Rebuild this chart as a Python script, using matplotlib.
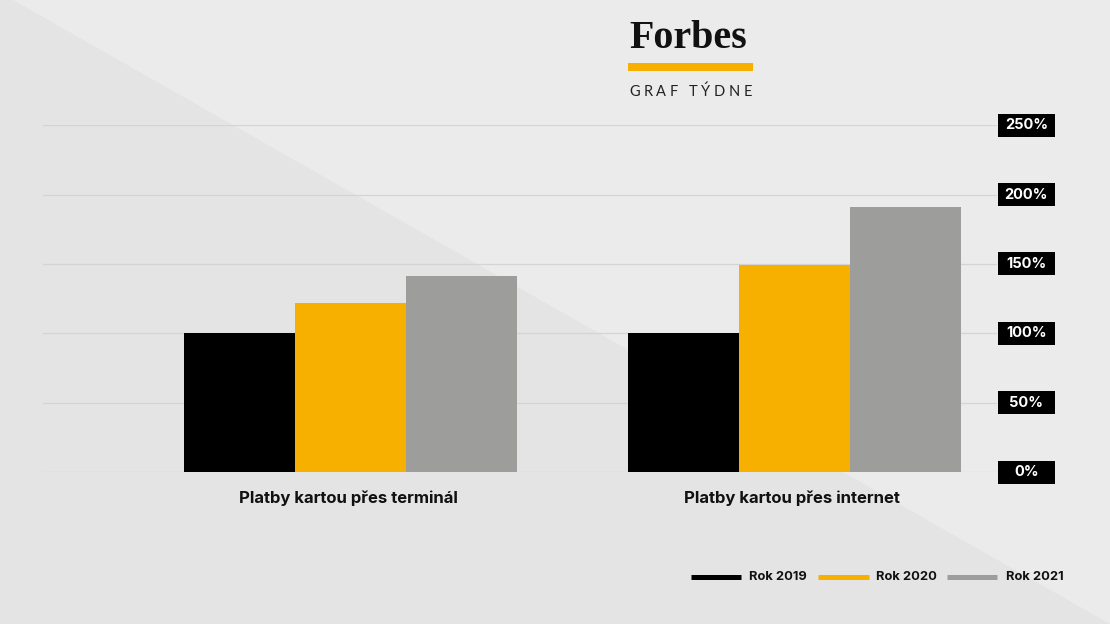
import matplotlib
matplotlib.use("Agg")
import matplotlib.pyplot as plt
from matplotlib.patches import Rectangle, Polygon
from matplotlib.lines import Line2D
from matplotlib.transforms import blended_transform_factory
import numpy as np

# ---- data ----
categories = ["Platby kartou přes terminál", "Platby kartou přes internet"]
series_names = ["Rok 2019", "Rok 2020", "Rok 2021"]
rok_2019 = [100, 100]
rok_2020 = [122, 149]
rok_2021 = [141, 191]
tick_values = [0, 50, 100, 150, 200, 250]
tick_labels = ["0%", "50%", "100%", "150%", "200%", "250%"]
colors = ["#000000", "#f8b000", "#9d9d9c"]

W, H = 1110, 624
fig = plt.figure(figsize=(W / 100, H / 100), dpi=100)
fig.patch.set_facecolor("#ebebeb")


def fx(px):
    return px / W


def fy(py):
    return (H - py) / H


# diagonal background shading
tri = Polygon([(13 / W, 1), (1, 0), (0, 0), (0, 1)], closed=True,
              transform=fig.transFigure, facecolor="#e4e4e4", edgecolor="none", zorder=-5)
fig.patches.append(tri)

# axes: x 43..997 px, y 0 at 472 px, 250 at 125.3 px
ax = fig.add_axes([fx(43), fy(472), fx(997) - fx(43), fy(125.3) - fy(472)], zorder=1)
ax.set_facecolor("none")
for s in ax.spines.values():
    s.set_visible(False)
ax.set_xticks([])
ax.set_yticks([])

x = np.arange(len(categories))
width = 0.25
ax.set_xlim(-0.6926, 1.4561)
ax.set_ylim(0, 250)

for v in tick_values:
    ax.axhline(v, color="#d4d4d4", linewidth=0.9, zorder=1)

all_series = [rok_2019, rok_2020, rok_2021]
for i, (vals, name, c) in enumerate(zip(all_series, series_names, colors)):
    ax.bar(x + (i - 1) * width, vals, width=width, color=c, label=name, zorder=2,
           linewidth=0)

# right-side tick label boxes
trans = blended_transform_factory(fig.transFigure, ax.transData)
px_per_unit = (472 - 125.3) / 250
box_h = 23 / px_per_unit
for v, lab in zip(tick_values, tick_labels):
    r = Rectangle((fx(997.7), v - box_h / 2), fx(1055) - fx(997.7), box_h,
                  transform=trans, facecolor="#000000", edgecolor="none",
                  clip_on=False, zorder=3)
    ax.add_patch(r)
    ax.text(fx(1026.4), v, lab, transform=trans, ha="center", va="center",
            color="white", fontsize=10.5, fontweight="bold", family="Inter",
            clip_on=False, zorder=4)

# category labels
cat_trans = blended_transform_factory(ax.transData, fig.transFigure)
for xi, cat in zip(x, categories):
    ax.text(xi - 0.005, fy(498), cat, transform=cat_trans,
            ha="center", va="center", fontsize=12, fontweight="bold", family="Inter",
            color="#111111", clip_on=False)

# legend (manual placement)
leg_line_x = [(691, 741), (818, 869), (947, 997)]
leg_text_x = [749, 876, 1006]
for (x0, x1), tx, name, c in zip(leg_line_x, leg_text_x, series_names, colors):
    fig.add_artist(Line2D([fx(x0), fx(x1)], [fy(577.3), fy(577.3)], transform=fig.transFigure,
                          color=c, linewidth=3.6, solid_capstyle="butt"))
    fig.text(fx(tx), fy(577.5), name, ha="left", va="center", fontsize=9.3,
             fontweight="bold", family="Inter", color="#111111")

# Forbes header
renderer = fig.canvas.get_renderer()
forbes = fig.text(fx(629), fy(48), "Forbes", ha="left", va="baseline",
                  fontsize=28, fontweight="bold", family="Liberation Serif", color="#111111")
bb = forbes.get_window_extent(renderer)
forbes.set_fontsize(28 * 118 / bb.width)

fig.add_artist(Rectangle((fx(628.3), fy(70.7)), fx(753.3) - fx(628.3), fy(63.3) - fy(70.7),
                         transform=fig.transFigure, facecolor="#f8b000", edgecolor="none"))

# letter-spaced subtitle
sub = "GRAF TÝDNE"
chars = []
widths = []
for ch in sub:
    t = fig.text(0, fy(96), ch if ch != " " else "\u00a0", ha="left", va="baseline",
                 fontsize=10.5, family="Lato", color="#222222")
    w = t.get_window_extent(renderer).width
    chars.append(t)
    widths.append(w)
total = sum(widths)
gap = (752.3 - 629.3 - total) / (len(sub) - 1)
cur = 629.3
for t, w in zip(chars, widths):
    t.set_x(fx(cur))
    cur += w + gap

fig.savefig("out.png", dpi=100, facecolor=fig.get_facecolor())
